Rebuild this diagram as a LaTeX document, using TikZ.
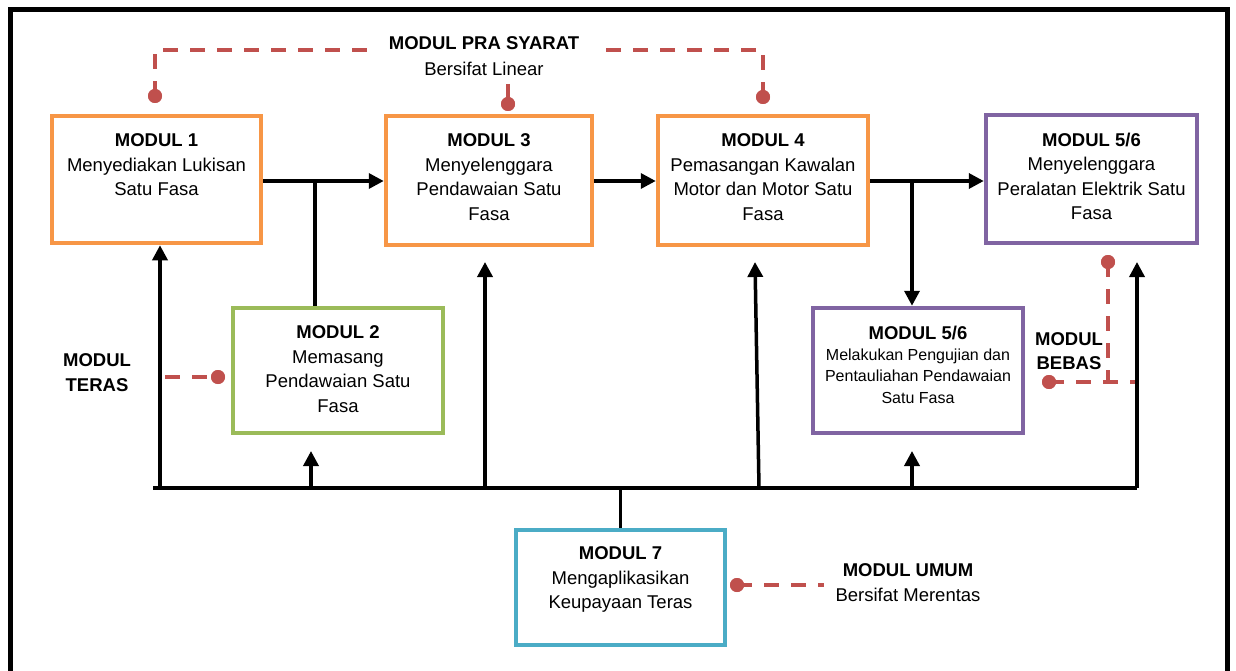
\documentclass[tikz,border=0pt]{standalone}
\usepackage{fontspec}
\setmainfont{Liberation Sans}
\usetikzlibrary{arrows.meta}
\definecolor{morange}{HTML}{F79646}
\definecolor{mpurple}{HTML}{8064A2}
\definecolor{mgreen}{HTML}{9BBB59}
\definecolor{mblue}{HTML}{4BACC6}
\definecolor{mred}{HTML}{C0504D}
\tikzset{
  mbox/.style={draw=#1, line width=4.5pt, fill=white, inner sep=0pt},
  txt/.style={inner sep=0pt, align=center, font=\fontsize{18.5}{24.6}\selectfont},
  btxt/.style={txt, font=\fontsize{18.5}{24.6}\selectfont\bfseries},
  ln/.style={line width=3.5pt},
  arr/.style={line width=3.5pt, -{Triangle[length=15pt,width=15pt]}},
  rdash/.style={draw=mred, line width=3.5pt, dash pattern=on 15pt off 12pt},
  rdot/.style={circle, fill=mred, inner sep=0pt, minimum size=14pt},
}
\begin{document}
\begin{tikzpicture}[x=1pt,y=-1pt]
\useasboundingbox (0,0) rectangle (1236,671);
% outer frame
\draw[line width=5pt] (10,671) -- (10,10) -- (1227,10) -- (1227,671);

% boxes
\node[mbox=morange, minimum width=209pt, minimum height=127pt] (b1) at (156.5,179.5) {};
\node[mbox=morange, minimum width=206pt, minimum height=129pt] (b3) at (489,180.5) {};
\node[mbox=morange, minimum width=210pt, minimum height=129pt] (b4) at (763,180.5) {};
\node[mbox=mpurple, minimum width=211pt, minimum height=128pt] (b56) at (1091.5,179) {};
\node[mbox=mgreen, minimum width=210pt, minimum height=125pt] (b2) at (338,370.5) {};
\node[mbox=mpurple, minimum width=210pt, minimum height=125pt] (b56b) at (918,370.5) {};
\node[mbox=mblue, minimum width=209pt, minimum height=115pt] (b7) at (620.5,587.5) {};

% box texts
\node[txt, anchor=north] (t1) at (156.5,133.5) {\textbf{MODUL 1}\\Menyediakan Lukisan\\Satu Fasa};
\node[txt, anchor=north] (t3) at (489,133.5) {\textbf{MODUL 3}\\Menyelenggara\\Pendawaian Satu\\Fasa};
\node[txt, anchor=north] (t4) at (763,133.5) {\textbf{MODUL 4}\\Pemasangan Kawalan\\Motor dan Motor Satu\\Fasa};
\node[txt, anchor=north] (t56) at (1091.5,132.5) {\textbf{MODUL 5/6}\\Menyelenggara\\Peralatan Elektrik Satu\\Fasa};
\node[txt, anchor=north] (t2) at (338,325.5) {\textbf{MODUL 2}\\Memasang\\Pendawaian Satu\\Fasa};
\node[txt, anchor=north, font=\fontsize{16}{21.3}\selectfont] (t56b) at (918,325.5) {{\fontsize{18.5}{22}\selectfont\textbf{MODUL 5/6}}\\Melakukan Pengujian dan\\Pentauliahan Pendawaian\\Satu Fasa};
\node[txt, anchor=north] (t7) at (620.5,546.5) {\textbf{MODUL 7}\\Mengaplikasikan\\Keupayaan Teras};

% coordinates
\coordinate (j1) at (315,181);
\coordinate (j2) at (912,181);
\coordinate (busL) at (153,488);
\coordinate (busR) at (1137,488);
\coordinate (busM) at (620.5,488);
\coordinate (u1) at (160,488);
\coordinate (u2s) at (311,488);
\coordinate (u2e) at (311,451);
\coordinate (u3s) at (485,488);
\coordinate (u3e) at (485,262);
\coordinate (u4s) at (759,488);
\coordinate (u4e) at (755,262);
\coordinate (u5s) at (912,488);
\coordinate (u5e) at (912,451);
\coordinate (u6e) at (1137,262);

% flow arrows
\draw[arr] (b1.east |- j1) -- (b3.west |- j1);
\draw[ln] (j1) -- (j1 |- b2.north);
\draw[arr] (b3.east |- j1) -- (b4.west |- j1);
\draw[arr] (b4.east |- j2) -- (b56.west |- j2);
\draw[arr] (j2) -- (j2 |- b56b.north);

% bus
\draw[ln] (busL) -- (busR);
\draw[arr] (busR) -- (u6e);
\draw[arr] (u1) -- (u1 |- b1.south);
\draw[arr] (u2s) -- (u2e);
\draw[arr] (u3s) -- (u3e);
\draw[arr] (u4s) -- (u4e);
\draw[arr] (u5s) -- (u5e);
\draw[ln] (b7.north) -- (busM);

% PRA SYARAT
\node[btxt] (pra) at (484,43) {MODUL PRA SYARAT};
\node[txt] (lin) at (484,69) {Bersifat Linear};
\node[rdot] (d1) at (155,96) {};
\node[rdot] (d2) at (508,104) {};
\node[rdot] (d3) at (763,97) {};
\coordinate (c1) at (155,50);
\coordinate (c2) at (368,50);
\coordinate (c3) at (597,50);
\coordinate (c4) at (763,50);
\coordinate (c5) at (508,84);
\draw[rdash] (d1.center) -- (c1) -- (c2);
\draw[rdash] (d3.center) -- (c4) -- (c3);
\draw[draw=mred, line width=3.5pt] (c5) -- (d2.center);
\node[rdot] at (d1) {};
\node[rdot] at (d3) {};
\node[rdot] at (d2) {};

% TERAS
\node[btxt] (teras) at (97,372.5) {MODUL\\TERAS};
\node[rdot] (dt) at (218,377) {};
\coordinate (ct) at (165,377);
\draw[rdash] (ct) -- (dt.center);
\node[rdot] at (dt) {};

% BEBAS
\node[btxt] (bebas) at (1069,351) {MODUL\\BEBAS};
\node[rdot] (db1) at (1108,262) {};
\node[rdot] (db2) at (1049,382) {};
\coordinate (cb1) at (1108,382);
\coordinate (cb2) at (1135,382);
\draw[rdash] (db1.center) -- (cb1);
\draw[rdash] (db2.center) -- (cb2);
\node[rdot] at (db1) {};
\node[rdot] at (db2) {};

% UMUM
\node[btxt] (umum) at (908,570) {MODUL UMUM};
\node[txt] (mer) at (908,595) {Bersifat Merentas};
\node[rdot] (du) at (737,585) {};
\coordinate (cu) at (824,585);
\draw[rdash] (du.center) -- (cu);
\node[rdot] at (du) {};
\end{tikzpicture}
\end{document}
